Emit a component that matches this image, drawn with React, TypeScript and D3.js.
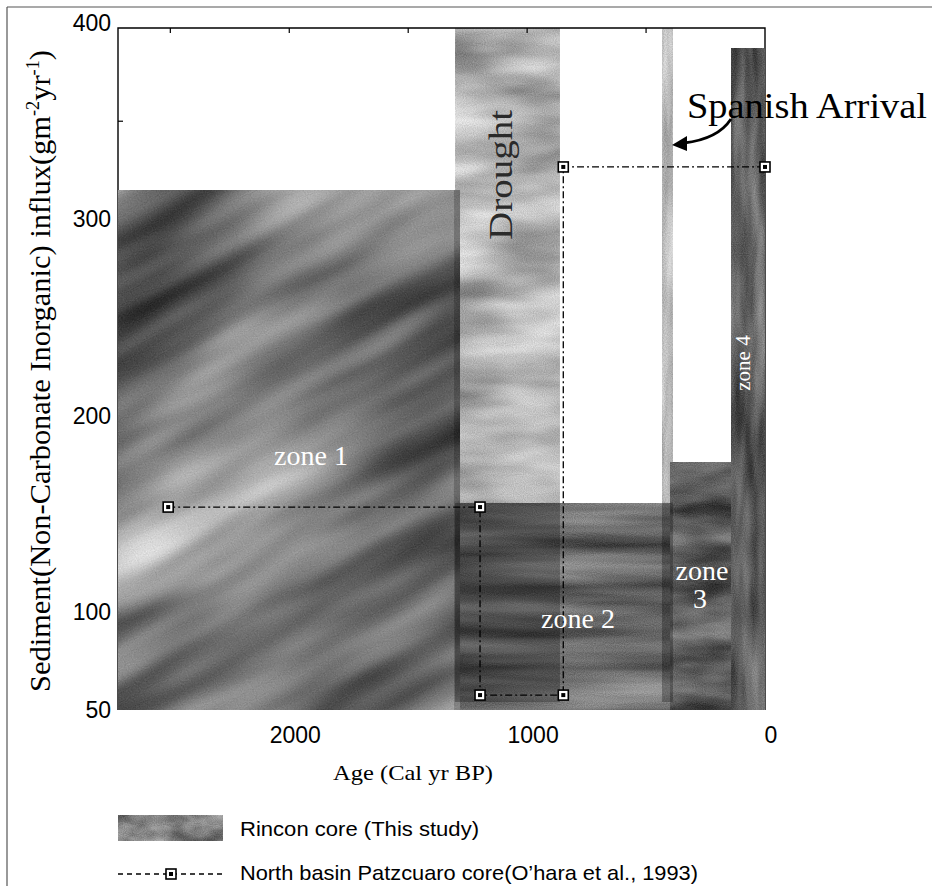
import React from "react";
import * as d3 from "d3";

const W = 937;
const H = 889;

// Rincon core (this study): step zones
const zoneNames = ["zone 1", "zone 2", "zone 3", "zone 4"];
const zoneStartAge = [2720, 1282, 399, 143];
const zoneEndAge = [1282, 399, 143, 0];
const zoneInflux = [315, 155.5, 176.4, 387.3];

// Event bands
const bandNames = ["Drought", "Spanish Arrival"];
const bandStartAge = [1303, 433];
const bandEndAge = [862, 387];

// North basin Patzcuaro core (O'hara et al., 1993) step vertices
const oharaAge = [2509, 1198, 1198, 848, 848, 0];
const oharaInflux = [153.4, 153.4, 57.6, 57.6, 326.7, 326.7];

const xTicks = [2500, 2000, 1500, 1000, 500];
const xTickLabels = [2000, 1000, 0];
const yTickLabels = [400, 300, 200, 100, 50];
const yMinorTicks = [350];
const ageDomain = [2720, 0];
const influxDomain = [50, 397.5];

const legendLabels = [
  "Rincon core (This study)",
  "North basin Patzcuaro core(O\u2019hara et al., 1993)",
];

const SERIF = "'Liberation Serif', 'DejaVu Serif', serif";
const SANS = "'Liberation Sans', Arial, sans-serif";

type TexProps = { id: string; freq: string; seed: number; mean: number; amp: number; oct?: number };
const Tex = ({ id, freq, seed, mean, amp, oct = 3 }: TexProps) => {
  const b = mean - amp * 0.5;
  const row = `${amp} 0 0 0 ${b}`;
  return (
    <filter id={id} x="0" y="0" width="1" height="1" colorInterpolationFilters="sRGB">
      <feTurbulence type="fractalNoise" baseFrequency={freq} numOctaves={oct} seed={seed} result="n" />
      <feColorMatrix in="n" type="matrix" values={`${row} ${row} ${row} 0 0 0 0 1`} result="g" />
      <feTurbulence type="fractalNoise" baseFrequency="0.9" numOctaves={1} seed={seed + 20} result="f" />
      <feColorMatrix in="f" type="matrix" values="1 0 0 0 0 1 0 0 0 0 1 0 0 0 0 0 0 0 0 1" result="fg" />
      <feComposite in="g" in2="fg" operator="arithmetic" k1={0} k2={1} k3={0.22} k4={-0.11} result="gg" />
      <feComposite in="gg" in2="SourceGraphic" operator="in" />
    </filter>
  );
};

const zoneTex = [
  { freq: "0.003 0.014", seed: 3, mean: 0.45, amp: 1.05, rot: -28 },
  { freq: "0.004 0.05", seed: 7, mean: 0.42, amp: 0.55, rot: 0 },
  { freq: "0.012 0.04", seed: 11, mean: 0.39, amp: 0.55, rot: 0 },
  { freq: "0.06 0.008", seed: 5, mean: 0.36, amp: 0.55, rot: 0 },
];
const bandTex = [
  { freq: "0.008 0.03", seed: 9, mean: 0.7, amp: 0.6 },
  { freq: "0.1 0.01", seed: 2, mean: 0.73, amp: 0.4 },
];

export default function App() {
  const x = d3.scaleLinear().domain(ageDomain).range([118, 765]);
  const y = d3.scaleLinear().domain(influxDomain).range([710, 28]);
  const [y0, y1] = [y(influxDomain[1]), y(influxDomain[0])];

  const zoneAt = (age: number) =>
    zoneStartAge.findIndex((s, i) => age <= s && age >= zoneEndAge[i]);

  const line = d3
    .line<number>()
    .x((i) => x(oharaAge[i]))
    .y((i) => y(oharaInflux[i]));
  const idx = oharaAge.map((_, i) => i);

  const dash = "7,3,2,3";

  const Marker = ({ cx, cy }: { cx: number; cy: number }) => (
    <g>
      <rect x={cx - 5} y={cy - 5} width={10} height={10} fill="#fff" stroke="#000" strokeWidth={1.6} />
      <rect x={cx - 2} y={cy - 2} width={4} height={4} fill="#000" />
    </g>
  );

  return (
    <svg
      width={W}
      height={H}
      viewBox={`0 0 ${W} ${H}`}
      style={{ position: "absolute", left: 0, top: 0, background: "#fff" }}
    >
      <defs>
        {zoneTex.map((t, i) => (
          <Tex key={i} id={`zt${i}`} freq={t.freq} seed={t.seed} mean={t.mean} amp={t.amp} />
        ))}
        {bandTex.map((t, i) => (
          <Tex key={i} id={`bt${i}`} freq={t.freq} seed={t.seed} mean={t.mean} amp={t.amp} />
        ))}
        <Tex id="legTex" freq="0.03 0.06" seed={4} mean={0.5} amp={0.6} />
        {zoneNames.map((_, i) => (
          <clipPath key={i} id={`zc${i}`}>
            <rect
              x={x(zoneStartAge[i])}
              y={y(zoneInflux[i])}
              width={x(zoneEndAge[i]) - x(zoneStartAge[i])}
              height={y1 - y(zoneInflux[i])}
            />
          </clipPath>
        ))}
      </defs>

      {/* outer figure border */}
      <line x1={7} y1={7} x2={932} y2={7} stroke="#555" strokeWidth={1.2} />
      <line x1={7} y1={7} x2={7} y2={886} stroke="#555" strokeWidth={1.2} />

      {/* event bands, light part */}
      {bandNames.map((_, i) => (
        <rect
          key={i}
          x={x(bandStartAge[i])}
          y={y0}
          width={x(bandEndAge[i]) - x(bandStartAge[i])}
          height={y1 - y0}
          fill="#000"
          filter={`url(#bt${i})`}
        />
      ))}

      {/* plot frame */}
      <path d={`M${x(ageDomain[0])},${y1} V${y0} H${x(ageDomain[1])} V${y1}`} fill="none" stroke="#000" strokeWidth={1.4} />
      {xTicks.map((t) => (
        <line key={t} x1={x(t)} x2={x(t)} y1={y0} y2={y0 + 5} stroke="#000" strokeWidth={1.2} />
      ))}
      {yMinorTicks.map((t) => (
        <line key={t} x1={118} x2={123} y1={y(t)} y2={y(t)} stroke="#000" strokeWidth={1.2} />
      ))}

      {/* Rincon core zones */}
      {zoneNames.map((_, i) => {
        const zx = x(zoneStartAge[i]);
        const zy = y(zoneInflux[i]);
        const zw = x(zoneEndAge[i]) - zx;
        const zh = y1 - zy;
        const cx = zx + zw / 2;
        const cy = zy + zh / 2;
        return (
          <g key={i} clipPath={`url(#zc${i})`}>
            <g transform={`rotate(${zoneTex[i].rot},${cx},${cy})`}>
              <rect x={zx - 300} y={zy - 300} width={zw + 600} height={zh + 600} fill="#000" filter={`url(#zt${i})`} />
            </g>
          </g>
        );
      })}
      {/* dark edge of zone 1 */}
      <rect x={x(zoneEndAge[0]) - 6} y={y(zoneInflux[0])} width={6} height={y1 - y(zoneInflux[0])} fill="#000" opacity={0.2} />

      {/* event bands where they overlap the core (darker) */}
      {bandNames.map((_, i) => {
        const zi = zoneAt((bandStartAge[i] + bandEndAge[i]) / 2);
        const top = y(zoneInflux[zi]);
        return (
          <rect
            key={i}
            x={x(bandStartAge[i])}
            y={top}
            width={x(bandEndAge[i]) - x(bandStartAge[i])}
            height={y1 - top - 8}
            fill="#000"
            opacity={0.28}
          />
        );
      })}

      {/* O'hara line */}
      <path d={line(idx) || ""} fill="none" stroke="#000" strokeWidth={1.3} strokeDasharray={dash} />
      {idx.map((i) => (
        <Marker key={i} cx={x(oharaAge[i])} cy={y(oharaInflux[i])} />
      ))}

      {/* zone labels */}
      <g fill="#fff" fontFamily={SERIF} fontSize={28}>
        <text x={311} y={465} textAnchor="middle">{zoneNames[0]}</text>
        <text x={578} y={628} textAnchor="middle">{zoneNames[1]}</text>
        <text x={702} y={580} textAnchor="middle">{zoneNames[2].split(" ")[0]}</text>
        <text x={700} y={608} textAnchor="middle">{zoneNames[2].split(" ")[1]}</text>
        <text transform="translate(750,363) rotate(-90)" textAnchor="middle" fontSize={21}>
          {zoneNames[3]}
        </text>
      </g>

      {/* Drought label */}
      <text
        transform="translate(512,240) rotate(-90)"
        fontFamily={SERIF}
        fontSize={34}
        textLength={130}
        lengthAdjust="spacingAndGlyphs"
        fill="#2a2a2a"
      >
        {bandNames[0]}
      </text>

      {/* Spanish arrival label + arrow */}
      <text x={687} y={118} fontFamily={SERIF} fontSize={35} textLength={240} lengthAdjust="spacingAndGlyphs" fill="#000">
        {bandNames[1]}
      </text>
      <path d="M731,119 Q718,139 684,143" fill="none" stroke="#000" strokeWidth={2.8} />
      <polygon points="672,145 687,136 687,151" fill="#000" />

      {/* Y axis tick labels */}
      <g fontFamily={SANS} fontSize={23} textAnchor="end" fill="#000">
        {yTickLabels.map((t) => (
          <text key={t} x={111} y={y(t)} dominantBaseline="central">
            {t}
          </text>
        ))}
      </g>
      {/* X axis tick labels */}
      <g fontFamily={SANS} fontSize={23} textAnchor="middle" fill="#000">
        {xTickLabels.map((t) => (
          <text key={t} x={x(t) + 6} y={735} dominantBaseline="central">
            {t}
          </text>
        ))}
      </g>

      {/* axis titles */}
      <text x={413} y={780} textAnchor="middle" fontFamily={SERIF} fontSize={21} textLength={160} lengthAdjust="spacingAndGlyphs">
        Age (Cal yr BP)
      </text>
      <text
        transform="translate(50,692) rotate(-90)"
        fontFamily={SERIF}
        fontSize={30}
        textLength={642}
        lengthAdjust="spacingAndGlyphs"
      >
        Sediment(Non-Carbonate Inorganic) influx(gm
        <tspan fontSize={18} dy={-11}>-2</tspan>
        <tspan dy={11}>yr</tspan>
        <tspan fontSize={18} dy={-11}>-1</tspan>
        <tspan dy={11}>)</tspan>
      </text>

      {/* legend */}
      <rect x={118} y={815} width={105} height={26} fill="#000" filter="url(#legTex)" />
      <text x={240} y={828} dominantBaseline="central" fontFamily={SANS} fontSize={21} textLength={239} lengthAdjust="spacingAndGlyphs">
        {legendLabels[0]}
      </text>
      <line x1={118} x2={223} y1={874} y2={874} stroke="#000" strokeWidth={1.3} strokeDasharray="5,4" />
      <Marker cx={171} cy={874} />
      <text x={240} y={872} dominantBaseline="central" fontFamily={SANS} fontSize={21} textLength={458} lengthAdjust="spacingAndGlyphs">
        {legendLabels[1]}
      </text>
    </svg>
  );
}
